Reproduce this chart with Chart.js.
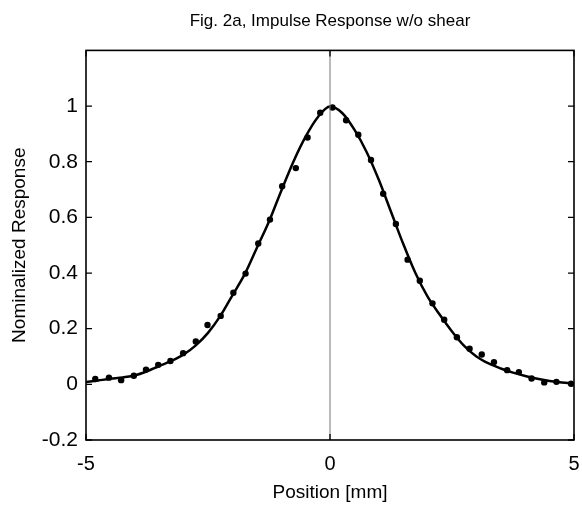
<!DOCTYPE html>
<html>
<head>
<meta charset="utf-8">
<script src="https://cdn.jsdelivr.net/npm/chart.js@4.4.1/dist/chart.umd.min.js"></script>
<style>
  html, body { margin: 0; padding: 0; background: #fff; }
  #wrap { width: 582px; height: 506px; }
</style>
</head>
<body>
<div id="wrap"><canvas id="c" width="582" height="506"></canvas></div>
<script>
// Fig. 2a - impulse response without shear: measured dots + fitted curve

const dotX = [-4.81, -4.53, -4.28, -4.02, -3.77, -3.52, -3.27, -3.01, -2.75, -2.51,
              -2.24, -1.98, -1.73, -1.47, -1.23, -0.98, -0.70, -0.46, -0.20, 0.05,
              0.33, 0.58, 0.84, 1.09, 1.35, 1.59, 1.84, 2.10, 2.34, 2.60,
              2.86, 3.11, 3.36, 3.63, 3.87, 4.13, 4.39, 4.64, 4.94];
const dotY = [0.019, 0.024, 0.015, 0.031, 0.053, 0.070, 0.084, 0.112, 0.154, 0.213,
              0.246, 0.329, 0.398, 0.506, 0.592, 0.712, 0.777, 0.887, 0.976, 0.995,
              0.949, 0.897, 0.806, 0.685, 0.576, 0.448, 0.372, 0.291, 0.232, 0.169,
              0.128, 0.107, 0.080, 0.051, 0.044, 0.021, 0.007, 0.009, 0.002];

// fitted curve, sampled every 0.25 mm
const curveX = [-5, -4.75, -4.5, -4.25, -4, -3.75, -3.5, -3.25, -3, -2.75, -2.5, -2.25, -2, -1.75,
                -1.5, -1.25, -1, -0.75, -0.5, -0.25, 0, 0.25, 0.5, 0.75, 1, 1.25, 1.5, 1.75,
                2, 2.25, 2.5, 2.75, 3, 3.25, 3.5, 3.75, 4, 4.25, 4.5, 4.75, 5];
const curveY = [0.008, 0.014, 0.020, 0.025, 0.032, 0.047, 0.066, 0.084, 0.107, 0.14, 0.185, 0.245, 0.32, 0.395,
                0.49, 0.585, 0.695, 0.80, 0.89, 0.96, 0.998, 0.975, 0.915, 0.835, 0.735, 0.62, 0.505, 0.40,
                0.315, 0.25, 0.19, 0.138, 0.10, 0.075, 0.057, 0.042, 0.030, 0.020, 0.012, 0.007, 0.003];

const yTicks = [-0.2, 0, 0.2, 0.4, 0.6, 0.8, 1];
const xTicks = [-5, 0, 5];

const FONT = "'Liberation Sans', Arial, Helvetica, sans-serif";

const curve = curveX.map((x, i) => ({ x: x, y: curveY[i] }));
const dots = dotX.map((x, i) => ({ x: x, y: dotY[i] }));

// box round the plot plus inward tick marks on all four sides
const frame = {
    id: 'frame',
    afterDatasetsDraw(chart) {
        const { ctx, chartArea: a, scales } = chart;
        ctx.save();
        ctx.strokeStyle = '#000';
        ctx.lineWidth = 1.6;
        ctx.strokeRect(a.left, a.top, a.right - a.left, a.bottom - a.top);
        ctx.lineWidth = 1.3;
        ctx.beginPath();
        yTicks.forEach(v => {
            const y = scales.y.getPixelForValue(v);
            ctx.moveTo(a.left, y); ctx.lineTo(a.left + 6, y);
            ctx.moveTo(a.right, y); ctx.lineTo(a.right - 6, y);
        });
        xTicks.forEach(v => {
            const x = scales.x.getPixelForValue(v);
            ctx.moveTo(x, a.bottom); ctx.lineTo(x, a.bottom - 6);
            ctx.moveTo(x, a.top); ctx.lineTo(x, a.top + 6);
        });
        ctx.stroke();
        ctx.restore();
    }
};

new Chart(document.getElementById('c'), {
    type: 'scatter',
    data: {
        datasets: [
            { // zero line
                data: [{ x: 0, y: -0.2 }, { x: 0, y: 1.2 }],
                showLine: true, borderColor: '#777', borderWidth: 1, pointRadius: 0
            },
            {
                data: curve, showLine: true, borderColor: '#000', borderWidth: 2.5,
                pointRadius: 0, cubicInterpolationMode: 'monotone'
            },
            {
                data: dots, showLine: false, pointRadius: 3.2, pointBorderWidth: 0,
                backgroundColor: '#000', borderColor: '#000'
            }
        ]
    },
    options: {
        responsive: false, animation: false,
        layout: { padding: { left: 0, right: 0, top: 0, bottom: 0 } },
        plugins: {
            legend: { display: false }, tooltip: { enabled: false },
            title: {
                display: true, fullSize: false, text: 'Fig. 2a, Impulse Response w/o shear', color: '#000',
                font: { family: FONT, size: 17, weight: 'normal' },
                padding: { top: 11, bottom: 19 }
            }
        },
        scales: {
            x: {
                type: 'linear', min: -5, max: 5,
                afterBuildTicks: s => { s.ticks = xTicks.map(v => ({ value: v })); },
                afterFit: s => { s.height = 66; s.paddingRight = 8; },
                grid: { display: false, drawTicks: false }, border: { display: false },
                ticks: { color: '#000', padding: 12, font: { family: FONT, size: 20 } },
                title: { display: true, text: 'Position [mm]', color: '#000',
                         font: { family: FONT, size: 19 }, padding: { top: 0, bottom: 2 } }
            },
            y: {
                type: 'linear', min: -0.2, max: 1.2,
                afterBuildTicks: s => { s.ticks = yTicks.map(v => ({ value: v })); },
                afterFit: s => { s.width = 86; },
                grid: { display: false, drawTicks: false }, border: { display: false },
                ticks: { color: '#000', padding: 8, font: { family: FONT, size: 21 },
                         callback: v => String(Math.round(v * 10) / 10) },
                title: { display: true, text: 'Nominalized Response', color: '#000',
                         font: { family: FONT, size: 19 }, padding: { top: 8, bottom: 0 } }
            }
        }
    },
    plugins: [frame]
});
</script>
</body>
</html>
